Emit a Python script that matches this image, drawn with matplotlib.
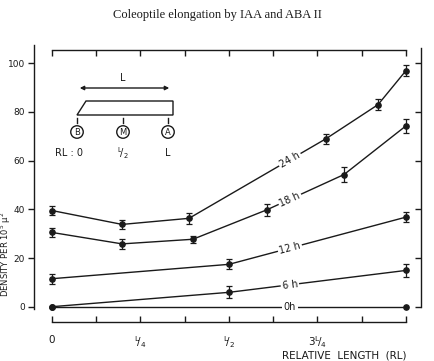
import numpy as np
import matplotlib
matplotlib.use("Agg")
import matplotlib.pyplot as plt
from matplotlib.patches import Polygon, Ellipse, FancyArrowPatch

# ---- data ----
series_names = ["24h", "18h", "12h", "6h", "0h"]
x_24 = [0.0, 0.198, 0.387, 0.774, 0.921, 1.0]
y_24 = [39.5, 33.8, 36.3, 69.0, 83.0, 97.0]
e_24 = [2.0, 2.0, 2.2, 2.0, 2.2, 2.2]
x_18 = [0.0, 0.198, 0.398, 0.607, 0.825, 1.0]
y_18 = [30.5, 25.8, 27.7, 39.8, 54.3, 74.3]
e_18 = [2.0, 2.0, 1.5, 2.5, 3.0, 2.8]
x_12 = [0.0, 0.5, 1.0]
y_12 = [11.5, 17.4, 36.8]
e_12 = [2.0, 2.0, 2.2]
x_6 = [0.0, 0.5, 1.0]
y_6 = [0.0, 5.9, 14.9]
e_6 = [0.0, 2.5, 2.5]
x_0 = [0.0, 1.0]
y_0 = [0.0, 0.0]
e_0 = [0.0, 0.0]
xtick_labels = ["0", r"$^{\mathsf{L}}\!/_{\mathsf{4}}$", r"$^{\mathsf{L}}\!/_{\mathsf{2}}$", r"$\mathsf{3}^{\mathsf{L}}\!/_{\mathsf{4}}$"]
yticks = [0, 20, 40, 60, 80, 100]

W, H = 435, 361
fig = plt.figure(figsize=(W / 100, H / 100), dpi=100)
ax = fig.add_axes([34 / W, 1 - 328.6 / H, 387 / W, (328.6 - 43.8) / H])
ax.set_xlim(-0.0508, 1.0424)
ax.set_ylim(-9, 108)

col = "#1a1a1a"
data = [(x_24, y_24, e_24), (x_18, y_18, e_18), (x_12, y_12, e_12), (x_6, y_6, e_6), (x_0, y_0, e_0)]
for (xs, ys, es) in data:
    ax.plot(xs, ys, color=col, lw=1.0, zorder=2)
    ax.plot(xs, ys, "o", color=col, ms=3.8, zorder=4)
    xs_e = [x for x, e in zip(xs, es) if e > 0]
    ys_e = [y for y, e in zip(ys, es) if e > 0]
    es_e = [e for e in es if e > 0]
    if xs_e:
        ax.errorbar(xs_e, ys_e, yerr=es_e, fmt="none", ecolor=col, elinewidth=0.9,
                    capsize=2.5, capthick=0.9, zorder=3)

# inline labels
lab_x = 0.672
for name, (xs, ys, es) in zip(series_names, data):
    yv = np.interp(lab_x, xs, ys)
    i = np.searchsorted(xs, lab_x)
    i = min(max(i, 1), len(xs) - 1)
    p1 = ax.transData.transform((xs[i - 1], ys[i - 1]))
    p2 = ax.transData.transform((xs[i], ys[i]))
    ang = np.degrees(np.arctan2(p2[1] - p1[1], p2[0] - p1[0]))
    ax.text(lab_x, yv, name.replace("h", " h") if name != "0h" else name, rotation=ang,
            rotation_mode="anchor", ha="center", va="center", fontsize=7, color=col,
            bbox=dict(boxstyle="square,pad=0.15", fc="white", ec="none"), zorder=5)

# spines
for s in ["left", "right", "top", "bottom"]:
    ax.spines[s].set_color(col)
    ax.spines[s].set_linewidth(1.0)
ax.spines["left"].set_bounds(-1, 107.5)
ax.spines["right"].set_bounds(0, 106.3)
ax.spines["top"].set_position(("data", 105.5))
ax.spines["top"].set_bounds(0, 1)
ax.spines["bottom"].set_position(("data", -6.4))
ax.spines["bottom"].set_bounds(0, 1)

ax.set_yticks(yticks)
ax.set_yticklabels([str(v) for v in yticks], fontsize=6.5, color=col)
ax.tick_params(axis="y", left=True, right=True, direction="out", length=4, width=1, colors=col, pad=2.5)
for t in ax.yaxis.get_major_ticks():
    t.tick2line.set_marker(matplotlib.lines.TICKLEFT)
    t.tick2line.set_markersize(4)

ax.set_xticks(np.arange(0, 1.0001, 0.125))
ax.set_xticklabels(["0", "", xtick_labels[1], "", xtick_labels[2], "", xtick_labels[3], "", ""], fontsize=7.5, color=col)
ax.tick_params(axis="x", top=True, bottom=True, direction="in", length=4, width=1, colors=col, pad=9)

# title
fig.text(217 / W, 1 - 15 / H, "Coleoptile elongation by IAA and ABA II", ha="center", va="center",
         fontsize=9, family="Liberation Serif", color=col)
# y label
fig.text(6 / W, 1 - 254 / H, r"DENSITY PER 10$^{5}$ µ$^{2}$", rotation=90, ha="center", va="center",
         fontsize=6, color=col)
# x label (cut off at bottom like the reference)
fig.text(282 / W, 1 - 351 / H, "RELATIVE  LENGTH  (RL)", ha="left", va="top", fontsize=7.5, color=col)

# inset diagram (figure pixel coordinates)
def P(x, y):
    return (x / W, 1 - y / H)

tf = fig.transFigure
arr = FancyArrowPatch(P(77, 88), P(172, 88), transform=tf, arrowstyle="<|-|>", mutation_scale=6,
                      color=col, lw=1.0)
fig.patches.append(arr)
fig.text(*P(123, 78), "L", transform=tf, ha="center", va="center", fontsize=7, color=col)
poly = Polygon([P(77, 115), P(86, 101), P(173, 101), P(173, 115)], closed=True, transform=tf,
               fill=False, ec=col, lw=1.0)
fig.patches.append(poly)
for xx, letter, lab in [(77, "B", "RL : 0"), (123, "M", r"$^{\mathsf{L}}\!/_{\mathsf{2}}$"), (168, "A", "L")]:
    fig.lines.append(matplotlib.lines.Line2D([xx / W, xx / W], [1 - 118 / H, 1 - 123 / H], transform=tf,
                                             color=col, lw=1.0))
    fig.patches.append(Ellipse(P(xx, 132), 12.5 / W, 12.5 / H, transform=tf, fill=False, ec=col, lw=1.0))
    fig.text(*P(xx, 132.5), letter, transform=tf, ha="center", va="center", fontsize=6, color=col)
    fig.text(*P(xx - (8 if letter == "B" else 0), 153), lab, transform=tf, ha="center", va="center",
             fontsize=7, color=col)

fig.savefig("out.png", dpi=100, facecolor="white")
